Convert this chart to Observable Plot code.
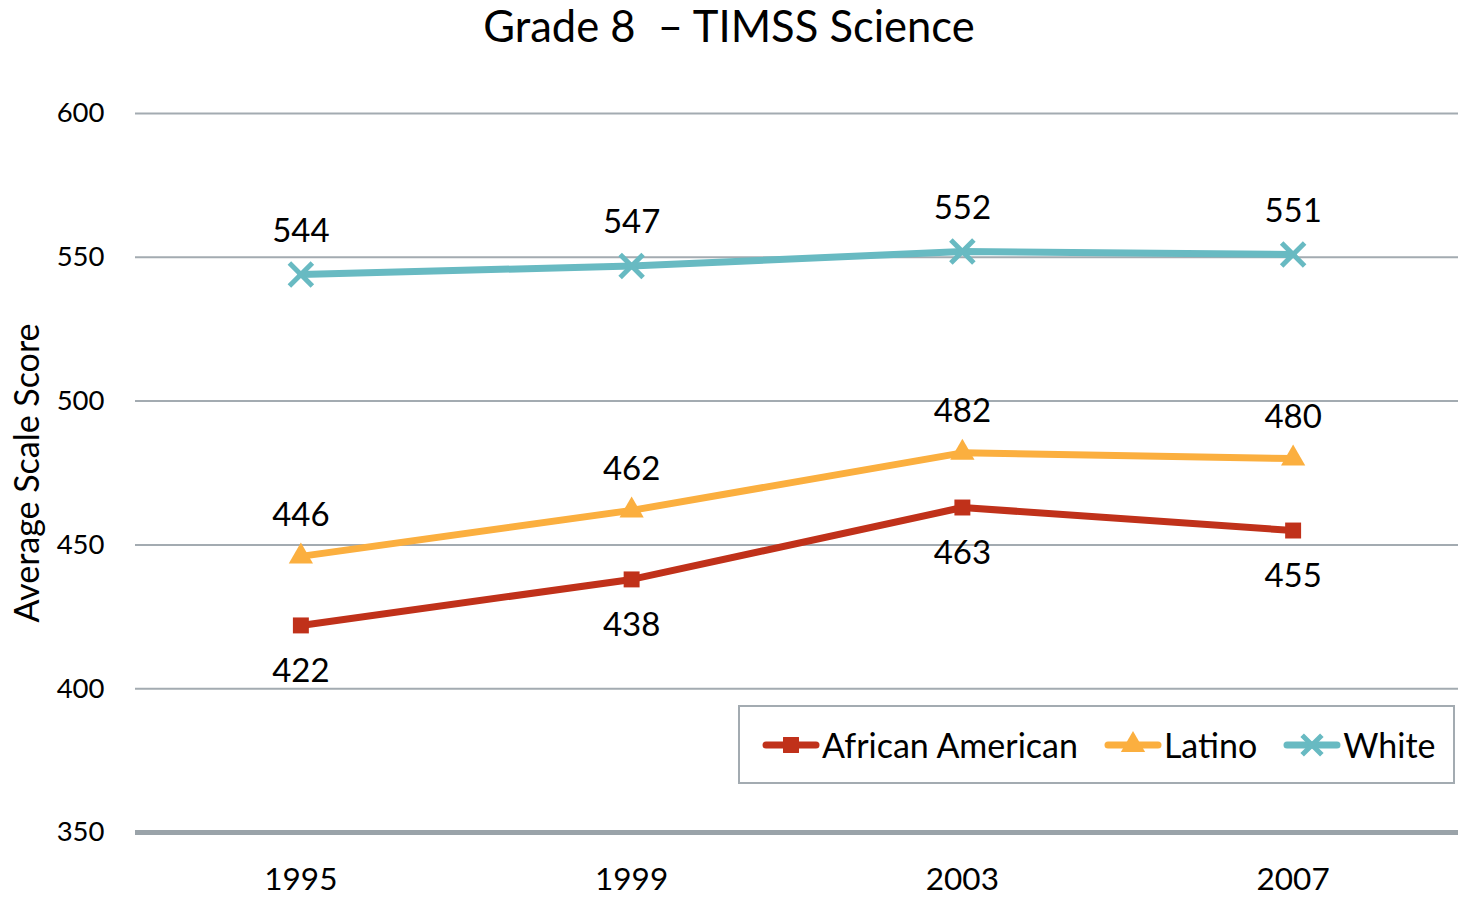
<!DOCTYPE html>
<html><head><meta charset="utf-8">
<script src="https://cdn.jsdelivr.net/npm/d3@7"></script>
<script src="https://cdn.jsdelivr.net/npm/@observablehq/plot@0.6"></script>
<style>
body{margin:0;background:#fff;font-family:Lato,"Open Sans",sans-serif;color:#000;}
#wrap{position:relative;width:1458px;height:897px;overflow:hidden;}
#title{position:absolute;left:0;top:0;width:1458px;text-align:center;font-size:43.5px;white-space:pre;line-height:50px;}
#chart{position:absolute;left:0;top:55px;}
#legend{position:absolute;left:738px;top:705px;width:717px;height:79px;border:2px solid #a3abb1;background:#fff;display:flex;align-items:center;padding-left:22px;box-sizing:border-box;}
#legend .item{display:flex;align-items:center;margin-right:26px;font-size:34px;}
#legend .item:last-child{margin-right:0;}
#legend svg{margin-right:2px;}
</style>
</head><body>
<div id="wrap">
  <div id="title"></div>
  <div id="chart"></div>
  <div id="legend"></div>
</div>
<script>
const titleText = "Grade 8  \u2013 TIMSS Science";
const yLabel = "Average Scale Score";
const years = ["1995", "1999", "2003", "2007"];
const seriesNames = ["African American", "Latino", "White"];
const africanAmerican = [422, 438, 463, 455];
const latino = [446, 462, 482, 480];
const white = [544, 547, 552, 551];
const yTicks = [350, 400, 450, 500, 550, 600];
const colors = ["#C0311A", "#FBAF3F", "#68BAC2"];
const symbols = ["square", "triangle", "times"];
const labelOffsets = [46, -41, -43];

document.getElementById("title").textContent = titleText;

const values = [africanAmerican, latino, white];
const rows = [];
seriesNames.forEach((s, i) => {
  years.forEach((yr, j) => rows.push({series: s, year: yr, value: values[i][j], idx: i}));
});

const marks = [
  Plot.ruleY(yTicks.filter(t => t > 350), {stroke: "#a3abb1", strokeWidth: 2}),
  Plot.ruleY([350], {stroke: "#9aa3a9", strokeWidth: 5}),
  Plot.axisY({ticks: yTicks, tickSize: 0, tickPadding: 31, fontSize: 27.5, label: null, tickFormat: d => String(d)}),
  Plot.axisX({tickSize: 0, tickPadding: 35, fontSize: 31.5, label: null}),
  Plot.text([yLabel], {frameAnchor: "left", textAnchor: "middle", rotate: -90, dx: -107, fontSize: 34, text: d => d}),
  Plot.line(rows, {x: "year", y: "value", z: "series", stroke: d => colors[d.idx], strokeWidth: 7})
];
seriesNames.forEach((s, i) => {
  const data = rows.filter(d => d.idx === i);
  if (symbols[i] === "times") {
    marks.push(Plot.dot(data, {x: "year", y: "value", symbol: symbols[i], r: 10.5, stroke: colors[i], strokeWidth: 5, fill: "none"}));
  } else {
    marks.push(Plot.dot(data, {x: "year", y: "value", symbol: symbols[i], r: 9, fill: colors[i], stroke: "none"}));
  }
  marks.push(Plot.text(data, {x: "year", y: "value", text: d => String(d.value), dy: labelOffsets[i], fontSize: 33, fill: "#000"}));
});

const chart = Plot.plot({
  width: 1458,
  height: 842,
  marginLeft: 135,
  marginRight: 0,
  marginTop: 58,
  marginBottom: 65,
  style: {fontFamily: "Lato, 'Open Sans', sans-serif", color: "#000", background: "transparent", overflow: "visible"},
  x: {type: "point", domain: years, padding: 0.5, round: false, axis: null},
  y: {domain: [350, 600], axis: null},
  marks
});
document.getElementById("chart").appendChild(chart);

// legend
const legend = document.getElementById("legend");
seriesNames.forEach((s, i) => {
  const item = document.createElement("div");
  item.className = "item";
  const svg = d3.create("svg").attr("width", 58).attr("height", 30);
  svg.append("line").attr("x1", 4).attr("x2", 54).attr("y1", 15).attr("y2", 15)
    .attr("stroke", colors[i]).attr("stroke-width", 7).attr("stroke-linecap", "round");
  const sym = {square: d3.symbolSquare, triangle: d3.symbolTriangle, times: d3.symbolTimes}[symbols[i]];
  const p = svg.append("path").attr("transform", "translate(29,15)")
    .attr("d", d3.symbol(sym, Math.PI * 81)());
  if (symbols[i] === "times") p.attr("fill", "none").attr("stroke", colors[i]).attr("stroke-width", 5);
  else p.attr("fill", colors[i]);
  item.appendChild(svg.node());
  const span = document.createElement("span");
  span.textContent = s;
  item.appendChild(span);
  legend.appendChild(item);
});
</script>
</body></html>
